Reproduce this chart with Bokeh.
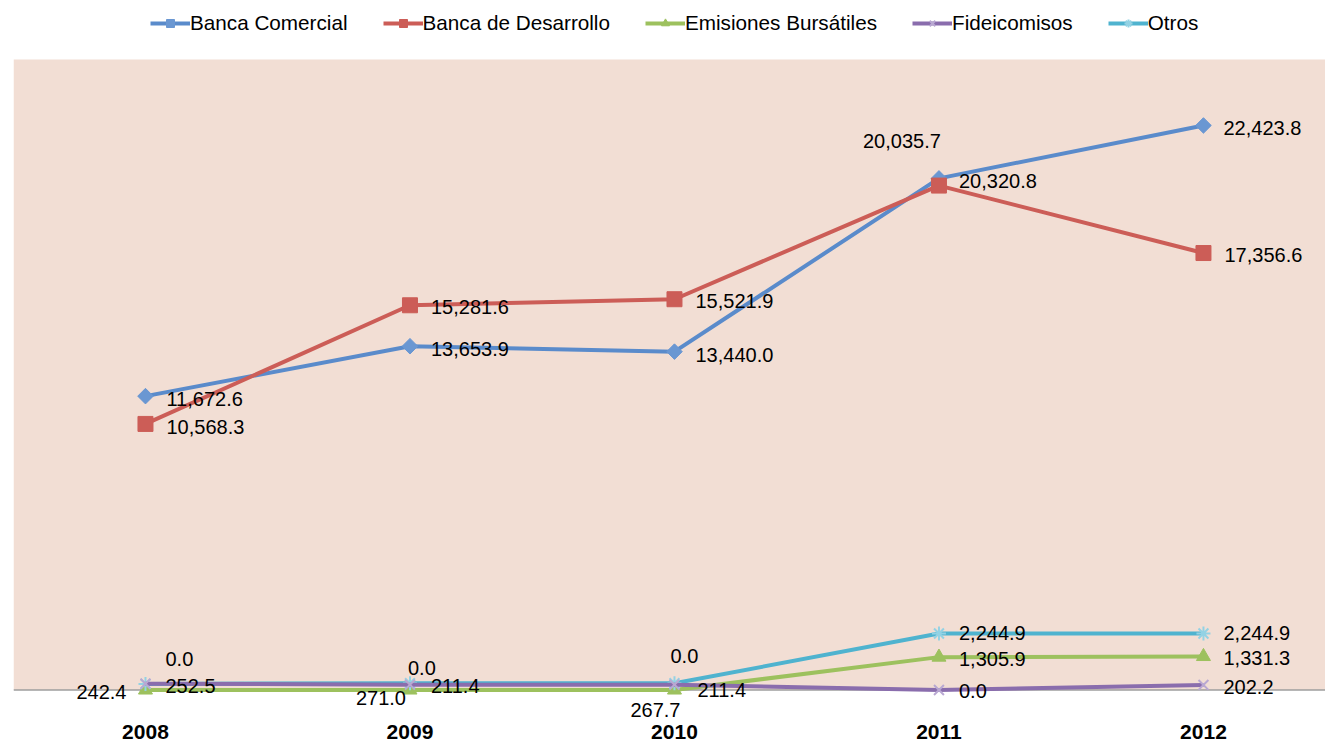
from bokeh.plotting import figure
from bokeh.models import (ColumnDataSource, Range1d, BoxAnnotation, Span, Legend,
                          LegendItem, FixedTicker, LabelSet)
from bokeh.core.properties import value
from bokeh.embed import file_html
from bokeh.resources import INLINE

# ---------------- data ----------------
years = ["2008", "2009", "2010", "2011", "2012"]
banca_comercial = [11672.6, 13653.9, 13440.0, 20320.8, 22423.8]
banca_desarrollo = [10568.3, 15281.6, 15521.9, 20035.7, 17356.6]
emisiones = [0.0, 0.0, 0.0, 1305.9, 1331.3]
fideicomisos = [252.5, 211.4, 211.4, 0.0, 202.2]
otros = [242.4, 271.0, 267.7, 2244.9, 2244.9]

series_names = ["Banca Comercial", "Banca de Desarrollo", "Emisiones Bursátiles",
                "Fideicomisos", "Otros"]

# label placement (screen px offsets, down = positive; style only)
label_dx = {
    "Banca Comercial": [21, 21, 21, 20, 20],
    "Banca de Desarrollo": [21, 21, 21, -76, 21],
    "Emisiones Bursátiles": [20, -2, -4, 20, 20],
    "Fideicomisos": [20, 21, 23, 20, 20],
    "Otros": [-19, -4, 6, 20, 20],
}
label_dy = {
    "Banca Comercial": [3, 3, 3, 3, 3],
    "Banca de Desarrollo": [3, 2, 2, -45, 2],
    "Emisiones Bursátiles": [-31, -22, -34, 2, 2],
    "Fideicomisos": [2, 1, 5, 1, 2],
    "Otros": [8, 15, 27, 0, 0],
}
label_align = {
    "Banca Comercial": ["left"] * 5,
    "Banca de Desarrollo": ["left"] * 5,
    "Emisiones Bursátiles": ["left"] * 5,
    "Fideicomisos": ["left"] * 5,
    "Otros": ["right", "right", "right", "left", "left"],
}

FONT = "Liberation Sans"
x = list(range(len(years)))
values = {
    "Banca Comercial": banca_comercial,
    "Banca de Desarrollo": banca_desarrollo,
    "Emisiones Bursátiles": emisiones,
    "Fideicomisos": fideicomisos,
    "Otros": otros,
}
styles = {
    "Banca Comercial": dict(color="#5A8BCB", marker="square", angle=0.7854, size=11, mcolor="#6A97D2", mline=1),
    "Banca de Desarrollo": dict(color="#CC5D57", marker="square", angle=0.0, size=15, mcolor="#CC5D57", mline=1),
    "Emisiones Bursátiles": dict(color="#9DC15E", marker="triangle", angle=0.0, size=14, mcolor="#9DC15E", mline=1),
    "Fideicomisos": dict(color="#8A6DAD", marker="x", angle=0.0, size=14, mcolor="#B9A8D2", mline=2),
    "Otros": dict(color="#4FB3CF", marker="asterisk", angle=0.0, size=14, mcolor="#93D2E4", mline=2),
}

p = figure(width=1325, height=746,
           x_range=Range1d(-0.499, 4.4614), y_range=Range1d(-1251, 27387),
           output_backend="svg", toolbar_location=None,
           min_border_left=13, min_border_right=0, min_border_top=0, min_border_bottom=25,
           y_axis_location=None)
p.outline_line_color = None
p.background_fill_color = "white"
p.border_fill_color = "white"
p.xgrid.visible = False
p.ygrid.visible = False

p.add_layout(BoxAnnotation(bottom=0, top=25040, fill_color="#F2DED4", fill_alpha=1.0,
                           line_color=None, level="underlay"))
p.add_layout(Span(location=0, dimension="width", line_color="#9E9E9E", line_width=1.5,
                  level="underlay"))

draw_order = ["Banca Comercial", "Banca de Desarrollo", "Emisiones Bursátiles",
              "Otros", "Fideicomisos"]
renderers = {}
for name in draw_order:
    st = styles[name]
    src = ColumnDataSource(dict(x=x, y=values[name]))
    ln = p.line("x", "y", source=src, line_color=st["color"], line_width=4)
    if st["marker"] in ("x", "asterisk"):
        sc = p.scatter("x", "y", source=src, marker=st["marker"], size=st["size"],
                       line_color=st["mcolor"], line_width=st["mline"])
    else:
        sc = p.scatter("x", "y", source=src, marker=st["marker"], size=st["size"],
                       angle=st["angle"], fill_color=st["mcolor"], line_color=st["mcolor"],
                       line_width=1)
    renderers[name] = [ln, sc]

# data labels
lx, ly, lt, ldx, ldy, lal = [], [], [], [], [], []
for name in series_names:
    for i, v in enumerate(values[name]):
        lx.append(x[i]); ly.append(v); lt.append(f"{v:,.1f}")
        ldx.append(label_dx[name][i]); ldy.append(-label_dy[name][i])
        lal.append(label_align[name][i])
lsrc = ColumnDataSource(dict(x=lx, y=ly, text=lt, dx=ldx, dy=ldy, align=lal))
p.add_layout(LabelSet(x="x", y="y", text="text", x_offset="dx", y_offset="dy",
                      text_align="align", text_baseline="middle", text_font=value(FONT),
                      text_font_size=value("20px"), text_color="black", source=lsrc))

# x axis
p.xaxis.ticker = FixedTicker(ticks=x)
p.xaxis.major_label_overrides = {i: y for i, y in zip(x, years)}
p.xaxis.major_label_text_font = FONT
p.xaxis.major_label_text_font_style = "bold"
p.xaxis.major_label_text_font_size = "21px"
p.xaxis.major_label_text_color = "black"
p.xaxis.axis_line_color = None
p.xaxis.major_tick_line_color = None
p.xaxis.minor_tick_line_color = None
p.xaxis.major_tick_out = 0
p.xaxis.major_tick_in = 0
p.xaxis.minor_tick_out = 0
p.xaxis.axis_label_standoff = 0
p.xaxis.major_label_standoff = 3

legend = Legend(items=[LegendItem(label=n, renderers=renderers[n]) for n in series_names],
                location=(137, 686), orientation="horizontal",
                glyph_width=40, glyph_height=20, label_standoff=0, spacing=35,
                padding=0, margin=0, border_line_color=None,
                background_fill_alpha=0, label_text_font=FONT,
                label_text_font_size="20.7px", label_text_color="black")
p.add_layout(legend)

open("out.html", "w").write(file_html(p, INLINE))
